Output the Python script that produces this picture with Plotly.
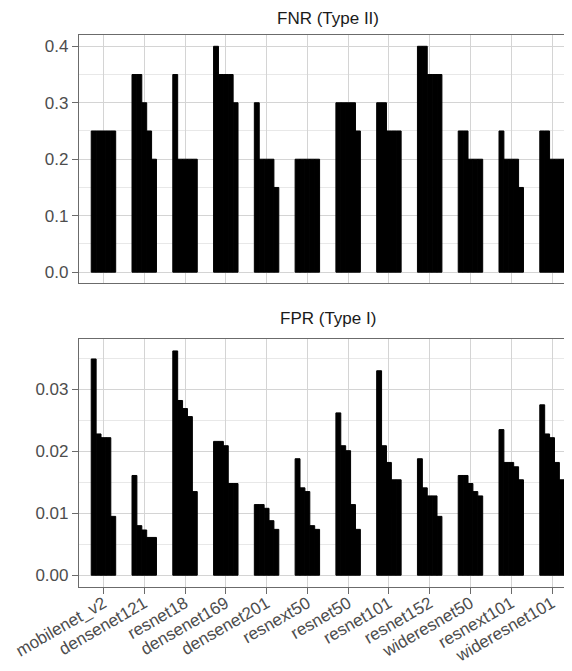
import plotly.graph_objects as go

models = ["mobilenet_v2", "densenet121", "resnet18", "densenet169", "densenet201",
          "resnext50", "resnet50", "resnet101", "resnet152", "wideresnet50",
          "resnext101", "wideresnet101"]

# FNR (Type II): five bars per model
fnr_1 = [0.25, 0.35, 0.35, 0.40, 0.30, 0.20, 0.30, 0.30, 0.40, 0.25, 0.25, 0.25]
fnr_2 = [0.25, 0.35, 0.20, 0.35, 0.20, 0.20, 0.30, 0.30, 0.40, 0.25, 0.20, 0.25]
fnr_3 = [0.25, 0.30, 0.20, 0.35, 0.20, 0.20, 0.30, 0.25, 0.35, 0.20, 0.20, 0.20]
fnr_4 = [0.25, 0.25, 0.20, 0.35, 0.20, 0.20, 0.30, 0.25, 0.35, 0.20, 0.20, 0.20]
fnr_5 = [0.25, 0.20, 0.20, 0.30, 0.15, 0.20, 0.25, 0.25, 0.35, 0.20, 0.15, 0.20]

# FPR (Type I): five bars per model
fpr_1 = [0.0349, 0.0161, 0.0362, 0.0216, 0.0114, 0.0188, 0.0262, 0.0330, 0.0188, 0.0161, 0.0235, 0.0275]
fpr_2 = [0.0228, 0.0080, 0.0282, 0.0216, 0.0114, 0.0141, 0.0209, 0.0209, 0.0141, 0.0161, 0.0182, 0.0228]
fpr_3 = [0.0222, 0.0073, 0.0269, 0.0209, 0.0108, 0.0135, 0.0201, 0.0182, 0.0128, 0.0148, 0.0182, 0.0222]
fpr_4 = [0.0222, 0.0061, 0.0256, 0.0148, 0.0088, 0.0080, 0.0114, 0.0154, 0.0128, 0.0135, 0.0175, 0.0182]
fpr_5 = [0.0095, 0.0061, 0.0135, 0.0148, 0.0074, 0.0074, 0.0074, 0.0154, 0.0095, 0.0128, 0.0154, 0.0154]

fnr_series = [fnr_1, fnr_2, fnr_3, fnr_4, fnr_5]
fpr_series = [fpr_1, fpr_2, fpr_3, fpr_4, fpr_5]

bar_marker = dict(color="black", line=dict(width=1, color="black"))

fig = go.Figure()
for i, s in enumerate(fnr_series):
    fig.add_trace(go.Bar(x=models, y=s, name=f"FNR {i+1}", marker=bar_marker,
                         xaxis="x", yaxis="y", offsetgroup=str(i), showlegend=False))
for i, s in enumerate(fpr_series):
    fig.add_trace(go.Bar(x=models, y=s, name=f"FPR {i+1}", marker=bar_marker,
                         xaxis="x2", yaxis="y2", offsetgroup=str(i), showlegend=False))

FONT = "Liberation Sans, Arial, sans-serif"
tickfont = dict(family=FONT, size=17, color="#4d4d4d")
grid_major = "#d4d4d4"
grid_minor = "#e8e8e8"
line_col = "#6b6b6b"

# x range so that spacing matches and the right part is clipped like the reference
xr = [-0.6, 11.49]

common_x = dict(type="category", range=xr, showgrid=True, gridcolor=grid_major, gridwidth=1.2,
                showline=True, linecolor=line_col, linewidth=1.2, mirror=True, zeroline=False,
                automargin=False)

# the page adds an 8px body margin, so the figure is 8px smaller than the window
fig.update_layout(
    width=564, height=663,
    margin=dict(l=70.5, r=0, t=27, b=84.3, autoexpand=False),
    plot_bgcolor="white", paper_bgcolor="white",
    barmode="group", bargap=0.4, bargroupgap=0,
    showlegend=False,
    xaxis=dict(**common_x, anchor="y", showticklabels=False, ticks=""),
    xaxis2=dict(**common_x, anchor="y2", ticks="outside", ticklen=6, tickcolor=line_col, tickwidth=1.2,
                tickangle=-30, tickfont=tickfont, ticklabelstandoff=-7),
    yaxis=dict(domain=[0.5499, 1.0], range=[-0.02, 0.42], dtick=0.1, tick0=0, tickformat=".1f",
               showgrid=True, gridcolor=grid_major, gridwidth=1.2, zeroline=False,
               minor=dict(dtick=0.05, tick0=0.05, showgrid=True, gridcolor=grid_minor, gridwidth=1),
               showline=True, linecolor=line_col, linewidth=1.2, mirror=False,
               ticks="outside", ticklen=6, tickcolor=line_col, tickwidth=1.2, tickfont=tickfont,
               anchor="x", automargin=False),
    yaxis2=dict(domain=[0.0, 0.449], range=[-0.0019, 0.0381], dtick=0.01, tick0=0, tickformat=".2f",
                showgrid=True, gridcolor=grid_major, gridwidth=1.2, zeroline=False,
                minor=dict(dtick=0.005, tick0=0.005, showgrid=True, gridcolor=grid_minor, gridwidth=1),
                showline=True, linecolor=line_col, linewidth=1.2, mirror=False,
                ticks="outside", ticklen=6, tickcolor=line_col, tickwidth=1.2, tickfont=tickfont,
                anchor="x2", automargin=False),
    annotations=[
        dict(text="FNR (Type II)", xref="paper", yref="paper", x=0.505, y=1.0, yshift=17,
             showarrow=False, xanchor="center", yanchor="middle",
             font=dict(family=FONT, size=17, color="#1a1a1a")),
        dict(text="FPR (Type I)", xref="paper", yref="paper", x=0.505, y=0.449, yshift=21,
             showarrow=False, xanchor="center", yanchor="middle",
             font=dict(family=FONT, size=17, color="#1a1a1a")),
    ],
)

fig.write_html("out.html")
